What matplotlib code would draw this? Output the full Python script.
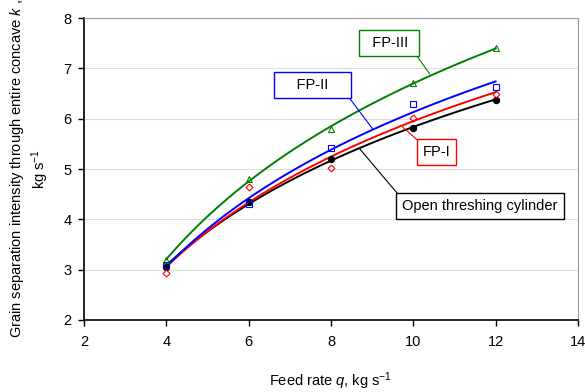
import numpy as np
import matplotlib.pyplot as plt

plt.rcParams['font.family'] = ['Liberation Sans', 'DejaVu Sans']
plt.rcParams['mathtext.fontset'] = 'custom'
plt.rcParams['mathtext.it'] = 'Liberation Sans:italic'
plt.rcParams['mathtext.rm'] = 'Liberation Sans'

# feed rate, kg/s
q = [4, 6, 8, 10, 12]
# grain separation intensity, kg/s
k_open = [3.05, 4.35, 5.20, 5.81, 6.37]
k_fp1 = [2.93, 4.65, 5.02, 6.02, 6.50]
k_fp2 = [3.10, 4.30, 5.41, 6.30, 6.63]
k_fp3 = [3.20, 4.80, 5.79, 6.71, 7.41]


def log_fit(x, y):
    # logarithmic trendline y = a*ln(x) + b
    a, b = np.polyfit(np.log(x), y, 1)
    xs = np.linspace(min(x), max(x), 100)
    return xs, a * np.log(xs) + b


fig = plt.figure(figsize=(5.85, 3.92), dpi=100)
ax = fig.add_axes([0.1436, 0.1837, 0.8444, 0.770])

series = [
    (k_open, 'black', 'o', 'black', 4.5),
    (k_fp1, 'red', 'D', 'none', 3.5),
    (k_fp2, 'blue', 's', 'none', 4.2),
    (k_fp3, 'green', '^', 'none', 4.5),
]
for k, c, m, fc, ms in series:
    xs, ys = log_fit(q, k)
    ax.plot(xs, ys, color=c, lw=1.4, zorder=2)
    ax.plot(q, k, ls='none', marker=m, ms=ms, mfc=fc, mec=c, mew=0.8, zorder=3)

ax.set_xlim(2, 14)
ax.set_ylim(2, 8)
ax.set_xticks(range(2, 15, 2))
ax.set_yticks(range(2, 9))
ax.yaxis.grid(True, color='#dddddd', lw=0.8)
ax.set_axisbelow(True)
ax.tick_params(direction='out', labelsize=10.5, length=4, width=1)
ax.tick_params(axis='x', pad=7)
ax.tick_params(axis='y', pad=5)
for s in ['top', 'right']:
    ax.spines[s].set_color('#999999')
    ax.spines[s].set_linewidth(0.8)
for s in ['left', 'bottom']:
    ax.spines[s].set_linewidth(1.2)

ax.set_xlabel('Feed rate $q$, kg s$^{-1}$', fontsize=10.5, labelpad=15)
ax.set_ylabel('Grain separation intensity through entire concave $k$ ,\nkg s$^{-1}$',
              fontsize=10.5, labelpad=9)

labels = [
    ('  FP-III ', (10.40, 6.89), (9.40, 7.50), 'green', (1, 0)),
    ('    FP-II    ', (9.02, 5.79), (7.55, 6.67), 'blue', (1, 0)),
    ('FP-I', (9.72, 5.85), (10.57, 5.34), 'red', (0, 1)),
    ('Open threshing cylinder', (8.70, 5.40), (11.62, 4.26), 'black', (0, 1)),
]
for txt, xy, xyt, c, rp in labels:
    ax.annotate(txt, xy=xy, xytext=xyt, ha='center', va='center', fontsize=10.5,
                bbox=dict(boxstyle='square,pad=0.4', fc='white', ec=c, lw=1),
                arrowprops=dict(arrowstyle='-', color=c, lw=0.8, relpos=rp,
                                shrinkA=0, shrinkB=0))

fig.savefig('out.png', dpi=100)
